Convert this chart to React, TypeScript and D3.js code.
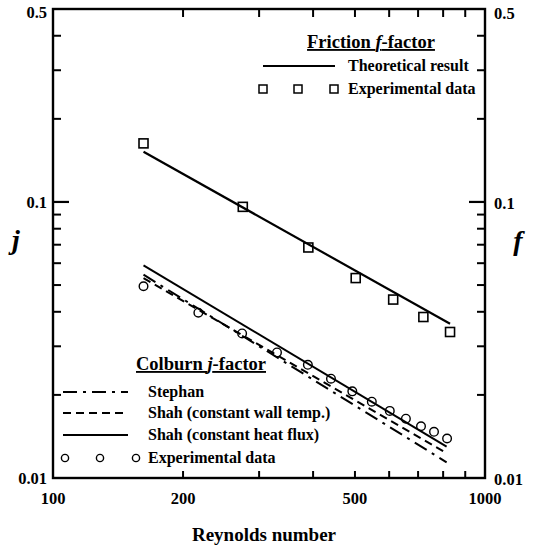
import React from "react";
import * as d3 from "d3";

// friction factor data
const reFriction = [162, 275, 390, 502, 613, 720, 830];
const fExp = [0.163, 0.096, 0.0684, 0.053, 0.0443, 0.0383, 0.0338];
const reTheory = [162, 830];
const fTheory = [0.152, 0.0362];

// colburn factor data
const reColburn = [162, 217, 274, 330, 389, 440, 493, 547, 602, 656, 711, 762, 817];
const jExp = [0.0495, 0.0397, 0.0334, 0.0285, 0.0257, 0.0229, 0.0206, 0.0189, 0.0175, 0.0164, 0.0154, 0.0147, 0.0139];
const reLines = [162, 815];
const jStephan = [0.0545, 0.0114];
const jShahWall = [0.053, 0.0123];
const jShahFlux = [0.0589, 0.013];

// ticks
const xLabels = [100, 200, 500, 1000];
const xMinor = [200, 300, 400, 500, 600, 700, 800, 900];
const yLabels = [0.01, 0.1, 0.5];
const yMinor = [0.02, 0.03, 0.04, 0.05, 0.06, 0.07, 0.08, 0.09, 0.2, 0.3, 0.4];

const W = 539;
const H = 547;
const FONT = "'Liberation Serif', 'Times New Roman', serif";

const x = d3.scaleLog().domain([100, 1000]).range([53, 485]);
const y = d3.scaleLog().domain([0.01, 0.5]).range([478, 9]);

const line = d3
    .line<[number, number]>()
    .x((d) => x(d[0]))
    .y((d) => y(d[1]));

const pairs = (xs: number[], ys: number[]) => xs.map((v, i) => [v, ys[i]] as [number, number]);

const STEPHAN_DASH = "14,6,3,6";
const WALL_DASH = "8,5";

export default function App() {
    const [x0, x1] = x.range();
    const [y0, y1] = y.range();

    // legend positions
    const topLegX = 348;
    const botLegX = 148;
    const botRows = [392, 413, 435, 458];

    return (
        <div style={{ position: "absolute", left: 0, top: 0 }}>
            <svg width={W} height={H} style={{ display: "block", background: "#fff" }} fontFamily={FONT} fontWeight="bold">
                {/* frame */}
                <rect x={x0} y={y1} width={x1 - x0} height={y0 - y1} fill="none" stroke="#000" strokeWidth={2.4} />

                {/* x ticks */}
                {xMinor.map((v) => (
                    <g key={"xt" + v}>
                        <line x1={x(v)} x2={x(v)} y1={y0} y2={y0 - 7} stroke="#000" strokeWidth={2} />
                        <line x1={x(v)} x2={x(v)} y1={y1} y2={y1 + 8} stroke="#000" strokeWidth={2} />
                    </g>
                ))}
                {xLabels.map((v) => (
                    <text key={"xl" + v} x={x(v)} y={y0 + 26} textAnchor="middle" fontSize={16.5}>
                        {v}
                    </text>
                ))}

                {/* y ticks */}
                {yMinor.map((v) => (
                    <g key={"yt" + v}>
                        <line x1={x0} x2={x0 + 8} y1={y(v)} y2={y(v)} stroke="#000" strokeWidth={2} />
                        <line x1={x1} x2={x1 - 8} y1={y(v)} y2={y(v)} stroke="#000" strokeWidth={2} />
                    </g>
                ))}
                <line x1={x0} x2={x0 + 16} y1={y(0.1)} y2={y(0.1)} stroke="#000" strokeWidth={2.2} />
                <line x1={x1} x2={x1 - 16} y1={y(0.1)} y2={y(0.1)} stroke="#000" strokeWidth={2.2} />
                {yLabels.map((v) => (
                    <g key={"yl" + v}>
                        <text x={x0 - 6} y={y(v) + (v === 0.5 ? 9 : 6)} textAnchor="end" fontSize={16.5}>
                            {v}
                        </text>
                        <text x={x1 + 9} y={y(v) + (v === 0.5 ? 10 : 7)} textAnchor="start" fontSize={16.5}>
                            {v}
                        </text>
                    </g>
                ))}

                {/* axis titles */}
                <text x={16} y={249} textAnchor="middle" fontSize={28} fontStyle="italic">j</text>
                <text x={518} y={250} textAnchor="middle" fontSize={28} fontStyle="italic">f</text>
                <text x={264} y={541} textAnchor="middle" fontSize={19}>Reynolds number</text>

                {/* friction */}
                <path d={line(pairs(reTheory, fTheory)) || ""} fill="none" stroke="#000" strokeWidth={2.2} />
                {reFriction.map((v, i) => (
                    <rect key={"fs" + i} x={x(v) - 4.5} y={y(fExp[i]) - 4.5} width={9} height={9} fill="none" stroke="#000" strokeWidth={1.6} />
                ))}

                {/* colburn */}
                <path d={line(pairs(reLines, jShahFlux)) || ""} fill="none" stroke="#000" strokeWidth={2} />
                <path d={line(pairs(reLines, jShahWall)) || ""} fill="none" stroke="#000" strokeWidth={2} strokeDasharray={WALL_DASH} />
                <path d={line(pairs(reLines, jStephan)) || ""} fill="none" stroke="#000" strokeWidth={2} strokeDasharray={STEPHAN_DASH} />
                {reColburn.map((v, i) => (
                    <circle key={"jc" + i} cx={x(v)} cy={y(jExp[i])} r={4.3} fill="none" stroke="#000" strokeWidth={1.4} />
                ))}

                {/* friction legend */}
                <text x={371} y={48} textAnchor="middle" fontSize={18.5} textDecoration="underline">
                    Friction <tspan fontStyle="italic">f</tspan>-factor
                </text>
                <line x1={263} x2={335} y1={66} y2={66} stroke="#000" strokeWidth={2} />
                <text x={topLegX} y={71} fontSize={16}>Theoretical result</text>
                {[263, 298, 334].map((cx) => (
                    <rect key={"ls" + cx} x={cx - 4} y={85} width={8} height={8} fill="none" stroke="#000" strokeWidth={1.5} />
                ))}
                <text x={topLegX} y={94} fontSize={16}>Experimental data</text>

                {/* colburn legend */}
                <text x={201} y={370} textAnchor="middle" fontSize={18.5} textDecoration="underline">
                    Colburn <tspan fontStyle="italic">j</tspan>-factor
                </text>
                <line x1={63} x2={128} y1={botRows[0]} y2={botRows[0]} stroke="#000" strokeWidth={2} strokeDasharray={STEPHAN_DASH} />
                <text x={botLegX} y={botRows[0] + 5} fontSize={16}>Stephan</text>
                <line x1={63} x2={128} y1={botRows[1]} y2={botRows[1]} stroke="#000" strokeWidth={2} strokeDasharray={WALL_DASH} />
                <text x={botLegX} y={botRows[1] + 5} fontSize={16}>Shah (constant wall temp.)</text>
                <line x1={63} x2={128} y1={botRows[2]} y2={botRows[2]} stroke="#000" strokeWidth={2} />
                <text x={botLegX} y={botRows[2] + 5} fontSize={16}>Shah (constant heat flux)</text>
                {[65, 100, 136].map((cx) => (
                    <circle key={"lc" + cx} cx={cx} cy={botRows[3]} r={3.6} fill="none" stroke="#000" strokeWidth={1.4} />
                ))}
                <text x={botLegX} y={botRows[3] + 5} fontSize={16}>Experimental data</text>
            </svg>
        </div>
    );
}
